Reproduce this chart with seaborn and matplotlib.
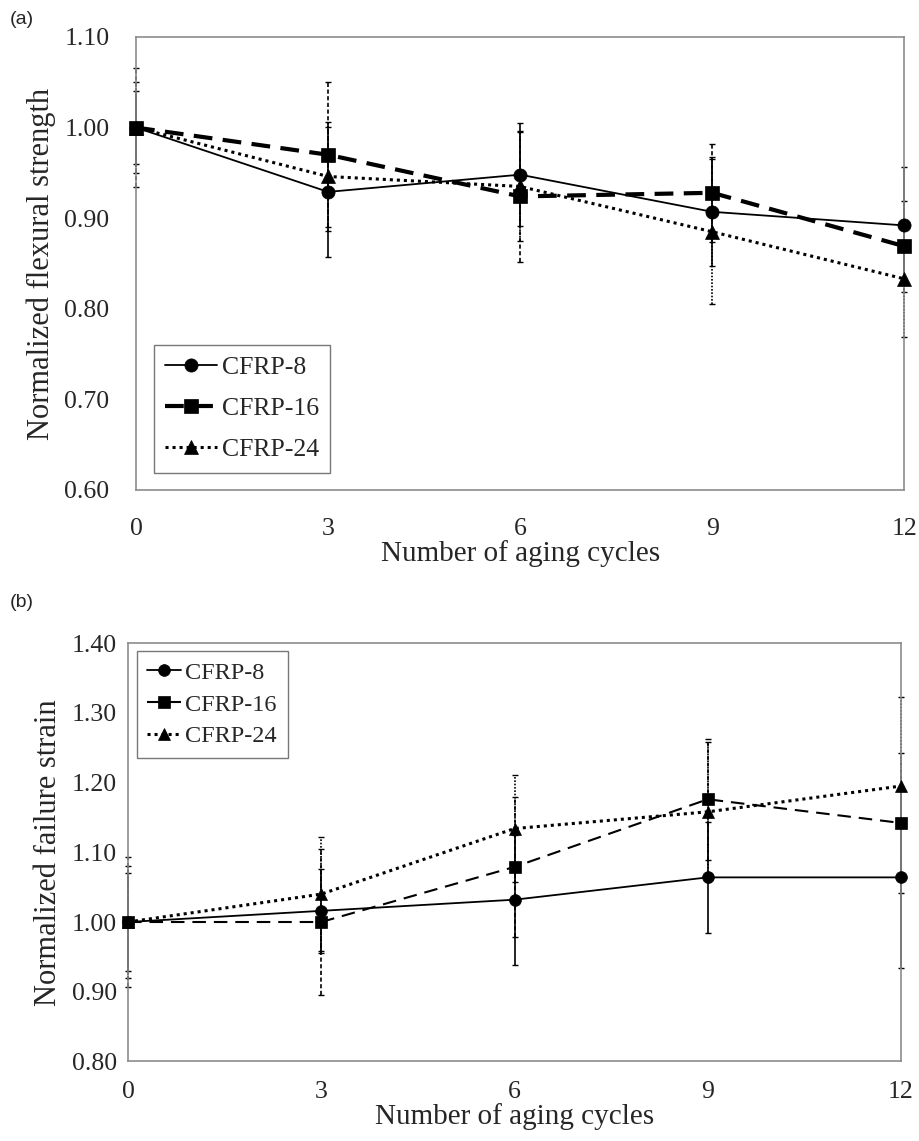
import pandas as pd
import matplotlib
matplotlib.use("Agg")
import matplotlib.pyplot as plt
import seaborn as sns

sns.set_theme(style="white")
plt.rcParams["font.family"] = ["Liberation Serif", "DejaVu Serif"]

# === data ===
cycles = [0, 3, 6, 9, 12]
series = ["CFRP-8", "CFRP-16", "CFRP-24"]

# (a) normalized flexural strength
fs_8 = [1.00, 0.929, 0.948, 0.907, 0.892]
fs_16 = [1.00, 0.970, 0.924, 0.928, 0.869]
fs_24 = [1.00, 0.946, 0.935, 0.885, 0.833]
fs_8_err = [0.040, 0.072, 0.057, 0.060, 0.064]
fs_16_err = [0.066, 0.080, 0.072, 0.054, 0.050]
fs_24_err = [0.050, 0.060, 0.060, 0.080, 0.064]

# (b) normalized failure strain
st_8 = [1.00, 1.016, 1.032, 1.064, 1.064]
st_16 = [1.00, 1.000, 1.079, 1.176, 1.142]
st_24 = [1.00, 1.040, 1.134, 1.158, 1.195]
st_8_err = [0.070, 0.060, 0.093, 0.080, 0.130]
st_16_err = [0.093, 0.105, 0.100, 0.087, 0.100]
st_24_err = [0.080, 0.082, 0.077, 0.100, 0.128]

markers = {"CFRP-8": "o", "CFRP-16": "s", "CFRP-24": "^"}
bar_styles = {"CFRP-8": "-", "CFRP-16": (0, (2.5, 1.5)), "CFRP-24": (0, (1, 1))}


def make_df(vals, errs):
    rows = []
    for name, v, e in zip(series, vals, errs):
        for c, y, err in zip(cycles, v, e):
            rows.append({"cycle": c, "value": y, "err": err, "series": name})
    return pd.DataFrame(rows)


def draw(ax, df, styles, lws, msize, ylim, yticks, ylabel, ypad, xpad, legend_kw):
    for name in series:
        d = df[df["series"] == name]
        eb = ax.errorbar(d["cycle"], d["value"], yerr=d["err"], fmt="none",
                         ecolor="black", elinewidth=1.2, capsize=2.0, capthick=1.0,
                         zorder=2)
        for col in eb[2]:
            col.set_linestyle(bar_styles[name])
            col.set_clip_on(False)
        for cap in eb[1]:
            cap.set_clip_on(False)
        sns.lineplot(data=d, x="cycle", y="value", marker=markers[name],
                     linestyle=styles[name], linewidth=lws[name], color="black",
                     markersize=msize, markeredgecolor="black", markeredgewidth=0.5,
                     label=name, ax=ax, zorder=3, clip_on=False)

    ax.set_xlim(0, 12)
    ax.set_ylim(*ylim)
    ax.set_xticks(cycles)
    ax.set_yticks(yticks)
    ax.set_yticklabels([f"{t:.2f}" for t in yticks])
    ax.tick_params(length=0, labelsize=18.5)
    ax.tick_params(axis="y", pad=ypad)
    ax.tick_params(axis="x", pad=xpad)
    ax.set_xlabel("Number of aging cycles", fontsize=21, labelpad=0)
    ax.set_ylabel(ylabel, fontsize=22, labelpad=6)
    for sp in ax.spines.values():
        sp.set_edgecolor("#8c8c8c")
        sp.set_linewidth(1.2)

    leg = ax.legend(frameon=True, fancybox=False, edgecolor="#555555",
                    borderpad=0.45, borderaxespad=0, **legend_kw)
    leg.get_frame().set_linewidth(1.0)


fig = plt.figure(figsize=(9.19, 11.41), dpi=100)
ax_a = fig.add_axes([0.148, 0.5706, 0.836, 0.397])
ax_b = fig.add_axes([0.1393, 0.0697, 0.8411, 0.3667])

df_a = make_df([fs_8, fs_16, fs_24], [fs_8_err, fs_16_err, fs_24_err])
df_b = make_df([st_8, st_16, st_24], [st_8_err, st_16_err, st_24_err])

draw(ax_a, df_a,
     styles={"CFRP-8": "-", "CFRP-16": (0, (4.5, 2.5)), "CFRP-24": (0, (1, 1.3))},
     lws={"CFRP-8": 1.3, "CFRP-16": 3.0, "CFRP-24": 2.2}, msize=9.5,
     ylim=(0.60, 1.10), yticks=[0.60, 0.70, 0.80, 0.90, 1.00, 1.10],
     ylabel="Normalized flexural strength", ypad=19, xpad=20,
     legend_kw=dict(loc="lower left", bbox_to_anchor=(0.023, 0.038), fontsize=18.5,
                    handlelength=2.0, handletextpad=0.2, labelspacing=0.7))

draw(ax_b, df_b,
     styles={"CFRP-8": "-", "CFRP-16": (0, (6.5, 3.8)), "CFRP-24": (0, (1, 1.3))},
     lws={"CFRP-8": 1.3, "CFRP-16": 1.5, "CFRP-24": 2.2}, msize=8.5,
     ylim=(0.80, 1.40), yticks=[0.80, 0.90, 1.00, 1.10, 1.20, 1.30, 1.40],
     ylabel="Normalized failure strain", ypad=8, xpad=14,
     legend_kw=dict(loc="upper left", bbox_to_anchor=(0.011, 0.981), fontsize=17.5,
                    handlelength=1.4, handletextpad=0.15, labelspacing=0.4))

fig.text(0.011, 0.979, "(a)", fontsize=14, family=["Liberation Sans", "DejaVu Sans"])
fig.text(0.011, 0.468, "(b)", fontsize=14, family=["Liberation Sans", "DejaVu Sans"])

fig.savefig("out.png", dpi=100)
